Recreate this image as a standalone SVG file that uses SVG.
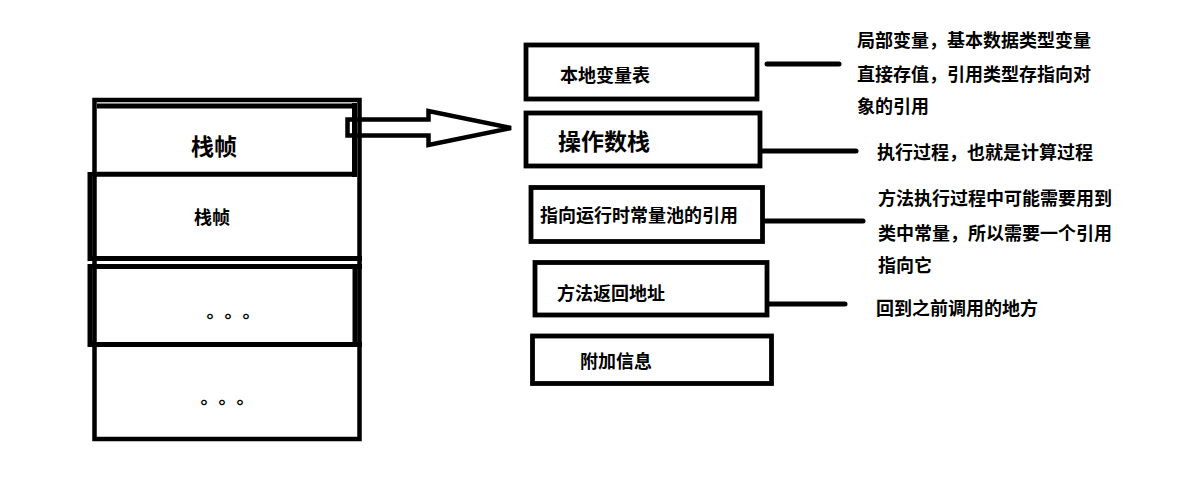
<svg xmlns="http://www.w3.org/2000/svg" width="1185" height="502" viewBox="0 0 1185 502">
<style>
  .t { font-family: "Noto Sans CJK SC", "Noto Sans", sans-serif; font-weight: bold; fill: #000; }
  .s18 { font-size: 18px; }
  .s23 { font-size: 23px; }
  .s17 { font-size: 18px; }
  .box { fill: none; stroke: #000; stroke-width: 4.8; }
  .ln { fill: none; stroke: #000; stroke-width: 5; }
  .conn { fill: none; stroke: #000; stroke-width: 5; stroke-linecap: round; }
</style>
<rect x="0" y="0" width="1185" height="502" fill="#fff"/>

<g id="connectors">
  <path id="arrow" d="M347.5,119.5 H428.5 V111 L511,128 L428.5,145 V135.5 H347.5 Z" fill="none" stroke="#000" stroke-width="4.5" stroke-linejoin="miter"/>
  <line x1="767" y1="64" x2="839" y2="64" class="conn"/>
  <line x1="762" y1="151" x2="856" y2="151" class="conn"/>
  <line x1="765" y1="221" x2="863" y2="221" class="conn"/>
  <line x1="769" y1="304" x2="845" y2="304" class="conn"/>
</g>

<g id="stack">
  <rect x="94.5" y="100" width="265" height="339" fill="none" stroke="#000" stroke-width="4.5"/>
  <g id="frame1">
    <line x1="97" y1="106" x2="357" y2="106" class="ln" stroke-width="5.4"/>
    <line x1="354.5" y1="103" x2="354.5" y2="177" class="ln"/>
    <line x1="92" y1="174.3" x2="357" y2="174.3" class="ln"/>
    <text x="191" y="154.7" class="t s23">栈帧</text>
  </g>
  <g id="frame2">
    <line x1="90" y1="172" x2="90" y2="261" class="ln" stroke-width="4"/>
    <line x1="88" y1="258.5" x2="362" y2="258.5" class="ln" stroke-width="4.5"/>
    <text x="194" y="224.3" class="t s18">栈帧</text>
  </g>
  <g id="frame3">
    <line x1="88" y1="266.5" x2="362" y2="266.5" class="ln"/>
    <line x1="90" y1="264" x2="90" y2="347" class="ln" stroke-width="4"/>
    <line x1="355" y1="264" x2="355" y2="347" class="ln" stroke-width="4"/>
    <line x1="88" y1="344.5" x2="362" y2="344.5" class="ln"/>
    <text x="206.6 224.6 242.6" y="318" class="t s18">。。。</text>
  </g>
  <g id="frame4">
    <text x="200.6 218.6 236.6" y="404" class="t s18">。。。</text>
  </g>
</g>

<g id="local-vars">
  <rect x="526" y="45" width="231" height="54" class="box"/>
  <text x="560" y="81.8" class="t s18">本地变量表</text>
</g>
<g id="operand-stack">
  <rect x="526" y="113" width="234" height="53" class="box"/>
  <text x="558" y="149.7" class="t s23">操作数栈</text>
</g>
<g id="const-pool-ref">
  <rect x="531" y="187.5" width="231.5" height="54" class="box"/>
  <text x="540" y="221.8" class="t s18">指向运行时常量池的引用</text>
</g>
<g id="return-addr">
  <rect x="535" y="262.5" width="232" height="52.5" class="box"/>
  <text x="557" y="300" class="t s18">方法返回地址</text>
</g>
<g id="extra-info">
  <rect x="532.5" y="336" width="239" height="47.5" class="box"/>
  <text x="580" y="367.8" class="t s18">附加信息</text>
</g>

<g id="note-local-vars">
  <text x="857" y="46.8" class="t s17">局部变量，基本数据类型变量</text>
  <text x="857" y="80.8" class="t s17">直接存值，引用类型存指向对</text>
  <text x="857" y="112.8" class="t s17">象的引用</text>
</g>
<g id="note-operand-stack">
  <text x="877" y="158.8" class="t s17">执行过程，也就是计算过程</text>
</g>
<g id="note-const-pool">
  <text x="878" y="205.3" class="t s17">方法执行过程中可能需要用到</text>
  <text x="878" y="239.8" class="t s17">类中常量，所以需要一个引用</text>
  <text x="878" y="272.3" class="t s17">指向它</text>
</g>
<g id="note-return-addr">
  <text x="876" y="314.8" class="t s17">回到之前调用的地方</text>
</g>
</svg>
